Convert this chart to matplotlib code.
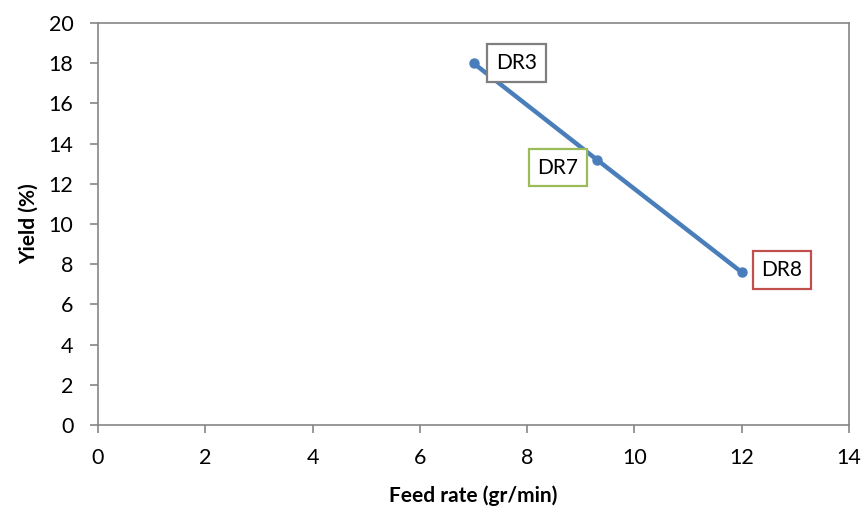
import matplotlib
matplotlib.use("Agg")
import matplotlib.pyplot as plt

# Feed rate vs yield for the three runs
feed_rate = [7.0, 9.3, 12.0]
yield_pct = [18.0, 13.2, 7.6]
run_labels = ["DR3", "DR7", "DR8"]
label_edge = ["#7f7f7f", "#9bbb59", "#c0504d"]
label_offset_px = [(43, 0), (-39, -8), (40, 2)]

x_ticks = list(range(0, 15, 2))
y_ticks = list(range(0, 21, 2))

plt.rcParams["font.family"] = ["Lato", "DejaVu Sans"]

fig = plt.figure(figsize=(8.66, 5.13), dpi=100)
ax = fig.add_axes([98 / 866, 88 / 513, 751 / 866, 402 / 513])

ax.plot(feed_rate, yield_pct, color="#4a7ebb", lw=3.2, marker="o",
        markersize=6.5, solid_capstyle="round", zorder=3)

px = 72 / fig.dpi
for xv, yv, lab, ec, (dx, dy) in zip(feed_rate, yield_pct, run_labels,
                                     label_edge, label_offset_px):
    ax.annotate(lab, (xv, yv), xytext=(dx * px, dy * px),
                textcoords="offset points", ha="center", va="center",
                fontsize=15, color="black", zorder=4,
                bbox=dict(boxstyle="square,pad=0.42", fc="white",
                          ec=ec, lw=1.6))

ax.set_xlim(0, 14)
ax.set_ylim(0, 20)
ax.set_xticks(x_ticks)
ax.set_yticks(y_ticks)
ax.tick_params(direction="out", length=5.8, width=1.2, color="#868686",
               labelsize=15.5)
ax.tick_params(axis="y", pad=12)
ax.tick_params(axis="x", pad=11)

for sp in ax.spines.values():
    sp.set_color("#868686")
    sp.set_linewidth(1.2)

ax.set_xlabel("Feed rate (gr/min)", fontsize=15, fontweight="bold", labelpad=12)
ax.set_ylabel("Yield (%)", fontsize=15, fontweight="bold", labelpad=7)

fig.savefig("out.png", dpi=100)
